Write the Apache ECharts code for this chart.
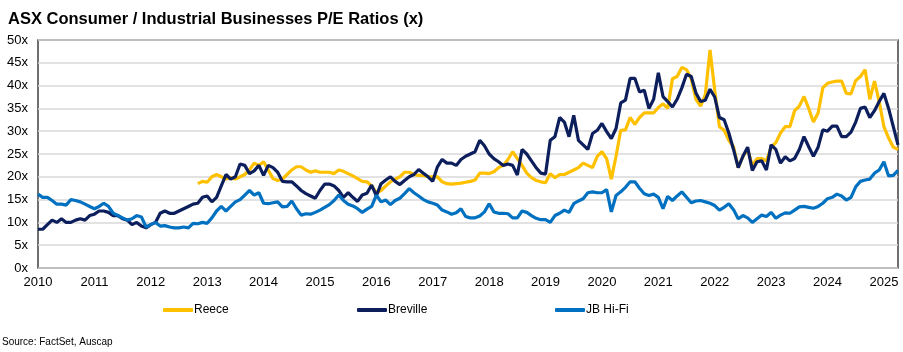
<!DOCTYPE html>
<html>
<head>
<meta charset="utf-8">
<script src="https://cdn.jsdelivr.net/npm/echarts@6/dist/echarts.min.js"></script>
<style>
  html, body { margin: 0; padding: 0; background: #fff; }
  #chart { width: 903px; height: 352px; }
</style>
</head>
<body>
<div id="chart"></div>
<script>
// Monthly, Jan 2010 .. Apr 2025
const startYear = 2010;
const monthCount = 184;
const yTicks = ['0x','5x','10x','15x','20x','25x','30x','35x','40x','45x','50x'];
const seriesNames = ['Reece', 'Breville', 'JB Hi-Fi'];

const reece = [
  null,null,null,null,null,null,null,null,null,null,null,null,
  null,null,null,null,null,null,null,null,null,null,null,null,
  null,null,null,null,null,null,null,null,null,null,18.5,19.0,
  18.8,20.0,20.5,20.0,19.5,19.8,19.5,20.0,20.5,21.5,23.0,22.5,
  23.3,21.5,19.6,19.2,19.5,20.5,21.5,22.2,22.2,21.5,21.0,21.3,
  21.0,21.0,21.0,20.7,21.5,21.2,20.7,20.2,19.6,19.0,18.9,18.0,
  16.5,17.0,18.0,18.9,19.5,20.0,21.0,21.0,20.5,20.3,20.3,20.0,
  20.0,20.0,18.9,18.5,18.4,18.5,18.6,18.8,19.0,19.3,20.8,20.8,
  20.7,21.1,22.0,22.5,23.8,25.5,24.0,22.5,20.8,19.8,19.2,18.9,
  18.7,20.7,19.8,20.5,20.5,21.0,21.5,22.0,23.0,22.5,22.0,24.5,
  25.5,24.0,19.5,24.5,30.2,30.3,33.0,31.5,33.0,34.0,34.0,34.0,
  35.2,36.0,35.0,41.5,42.0,44.0,43.5,41.5,37.0,35.5,38.0,47.8,
  39.0,31.0,30.2,28.0,26.6,22.0,24.5,26.0,22.5,24.0,24.0,23.5,
  26.5,27.5,29.6,31.0,31.0,34.5,35.5,37.6,35.0,32.0,34.0,39.5,
  40.5,40.8,41.0,41.0,38.3,38.2,41.1,42.0,43.5,37.0,41.0,36.5,
  31.0,28.5,26.5,26.0
];

const breville = [
  8.5,8.5,9.5,10.5,10.0,10.8,10.0,10.0,10.5,10.8,10.5,11.5,
  11.8,12.5,12.5,12.2,11.5,11.5,10.8,10.5,9.5,10.0,9.2,8.8,
  9.5,10.0,12.0,12.5,12.0,12.0,12.5,13.0,13.5,14.0,14.2,15.5,
  15.8,14.5,15.5,18.0,20.5,19.5,20.0,22.8,22.5,20.7,21.3,22.5,
  20.3,22.5,22.0,21.0,19.0,18.9,18.9,18.0,17.0,16.3,15.8,15.3,
  17.0,18.4,18.4,18.0,17.0,15.5,16.5,15.5,14.6,16.0,16.4,18.2,
  15.8,18.5,19.3,20.0,19.0,18.3,19.2,20.0,20.5,21.6,20.8,20.0,
  19.0,22.2,23.8,23.0,23.0,22.5,23.8,24.5,25.0,25.5,28.0,26.8,
  25.0,24.0,23.3,22.5,22.8,22.5,20.4,26.0,25.0,23.5,22.0,20.8,
  20.6,28.0,28.8,33.0,32.0,28.8,33.5,28.0,27.0,26.0,29.5,30.2,
  31.7,29.9,28.4,30.6,36.2,36.8,41.6,41.6,38.6,39.0,35.0,37.0,
  42.8,37.6,36.5,35.3,37.0,39.5,42.5,42.0,38.4,36.5,36.8,39.2,
  37.5,33.0,32.5,29.6,26.0,22.0,24.5,26.5,21.4,23.3,23.5,21.5,
  27.0,26.0,23.0,24.4,23.5,24.0,26.0,28.8,26.6,24.5,26.5,30.3,
  30.0,31.1,31.1,28.8,28.8,29.8,32.0,35.0,35.3,33.0,34.5,36.5,
  38.3,35.0,31.0,27.0
];

const jbhifi = [
  16.2,15.5,15.5,14.8,14.0,14.0,13.8,15.0,14.8,14.5,14.0,13.5,
  13.0,13.5,14.2,13.5,12.0,11.5,11.0,10.5,10.8,11.5,11.2,9.0,
  9.5,10.0,9.2,9.3,9.0,8.8,8.8,9.0,8.8,9.8,9.7,10.0,
  9.8,11.0,12.5,13.5,12.5,13.5,14.5,15.0,16.0,17.0,16.0,16.5,
  14.2,14.1,14.3,14.5,13.4,13.5,14.7,13.0,11.6,11.9,11.8,12.2,
  12.7,13.3,13.9,14.8,16.0,14.8,14.0,13.6,13.0,12.2,12.9,13.5,
  16.0,14.5,14.9,13.9,14.8,15.3,16.3,17.4,16.5,15.8,15.0,14.5,
  14.2,13.8,12.7,12.3,11.8,12.1,13.0,11.3,11.0,11.0,11.4,12.3,
  14.1,12.3,12.0,12.0,11.9,11.0,11.0,12.5,12.2,11.5,10.9,10.6,
  10.6,10.0,11.5,12.0,12.7,12.2,14.1,14.7,15.2,16.5,16.7,16.5,
  16.5,17.2,12.3,15.9,16.7,17.7,18.9,18.9,17.5,16.3,15.9,16.2,
  15.5,13.0,15.7,14.8,15.8,16.7,15.5,14.3,14.7,14.8,14.5,14.2,
  13.7,12.7,13.3,14.1,12.8,10.8,11.5,11.0,10.0,10.8,11.6,11.3,
  12.2,10.9,11.6,12.1,12.0,12.7,13.4,13.5,13.3,13.1,13.5,14.2,
  15.2,15.5,16.2,15.8,14.9,15.5,17.8,19.0,19.3,19.5,20.8,21.5,
  23.3,20.2,20.3,21.4
];

const months = [];
for (let i = 0; i < monthCount; i++) {
  const y = startYear + Math.floor(i / 12);
  const m = (i % 12) + 1;
  months.push(y + '-' + (m < 10 ? '0' + m : m));
}

const colors = ['#FFC000', '#0C1F5C', '#0070C0'];
const FONT = 'Arial, "Liberation Sans", sans-serif';

const chart = echarts.init(document.getElementById('chart'), null, { renderer: 'canvas' });

function mkLegend(name, left) {
  return {
    data: [name],
    left: left,
    top: 304,
    itemWidth: 30,
    itemHeight: 4,
    itemGap: 0,
    padding: 0,
    icon: 'roundRect',
    textStyle: { fontFamily: FONT, fontSize: 12, color: '#000', padding: [0, 0, 0, -4] }
  };
}

chart.setOption({
  animation: false,
  backgroundColor: '#fff',
  color: colors,
  title: {
    text: 'ASX Consumer / Industrial Businesses P/E Ratios (x)',
    left: 8,
    top: 11,
    padding: 0,
    textStyle: { fontFamily: FONT, fontSize: 16.5, fontWeight: 'bold', color: '#000' }
  },
  graphic: [{
    type: 'text',
    left: 2,
    top: 337,
    style: { text: 'Source: FactSet, Auscap', font: '10px ' + FONT, fill: '#000' }
  }],
  legend: [mkLegend('Reece', 163), mkLegend('Breville', 357), mkLegend('JB Hi-Fi', 555)],
  grid: {
    left: 38, right: 5, top: 40, bottom: 84,
    show: true,
    borderColor: '#404040',
    borderWidth: 1.5,
    containLabel: false
  },
  xAxis: {
    type: 'category',
    data: months,
    boundaryGap: false,
    axisLine: { show: false },
    axisTick: { show: false },
    splitLine: { show: false },
    axisLabel: {
      interval: function (idx) { return idx % 12 === 0; },
      formatter: function (v) { return v.slice(0, 4); },
      fontFamily: FONT, fontSize: 13, color: '#000', margin: 8
    }
  },
  yAxis: {
    type: 'value',
    min: 0, max: 50, interval: 5,
    axisLine: { show: false },
    axisTick: { show: false },
    splitLine: { lineStyle: { color: '#D9D9D9', width: 1.5 } },
    axisLabel: {
      formatter: function (v) { return yTicks[Math.round(v / 5)]; },
      fontFamily: FONT, fontSize: 13, color: '#000', margin: 10
    }
  },
  series: [
    { name: seriesNames[0], type: 'line', data: reece, showSymbol: false, symbol: 'none', lineStyle: { width: 3.2, color: colors[0] }, itemStyle: { color: colors[0] } },
    { name: seriesNames[1], type: 'line', data: breville, showSymbol: false, symbol: 'none', lineStyle: { width: 3.2, color: colors[1] }, itemStyle: { color: colors[1] } },
    { name: seriesNames[2], type: 'line', data: jbhifi, showSymbol: false, symbol: 'none', lineStyle: { width: 3.2, color: colors[2] }, itemStyle: { color: colors[2] } }
  ]
});
</script>
</body>
</html>
